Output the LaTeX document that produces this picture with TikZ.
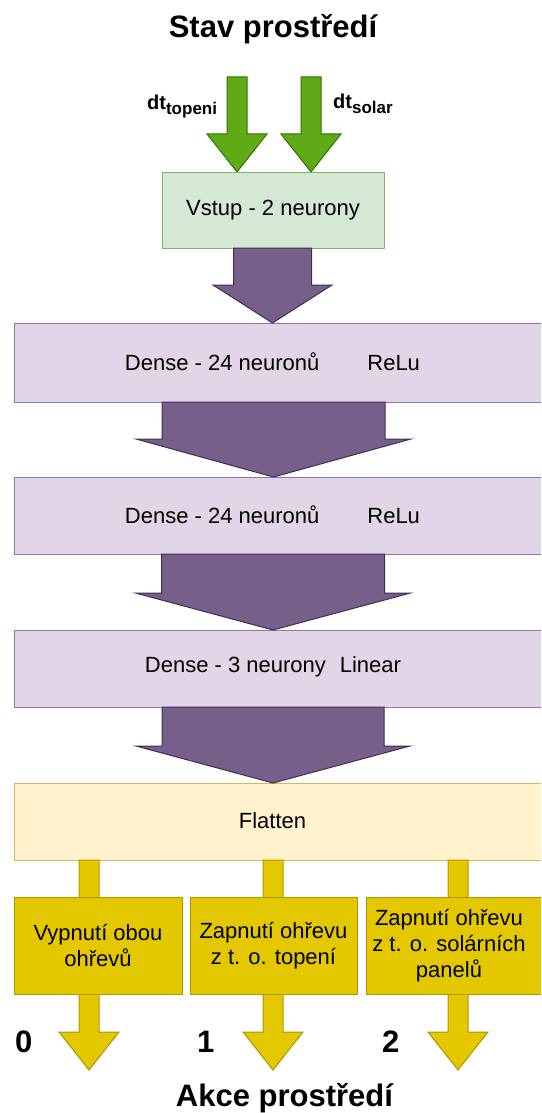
\documentclass[tikz,border=0pt]{standalone}
\usepackage{fontspec}
\setmainfont{Liberation Sans}
\usetikzlibrary{calc}
\definecolor{grnF}{HTML}{60A917}\definecolor{grnD}{HTML}{2D7600}
\definecolor{vstF}{HTML}{D5E8D4}\definecolor{vstD}{HTML}{82B366}
\definecolor{purF}{HTML}{76608A}\definecolor{purD}{HTML}{432D57}
\definecolor{layF}{HTML}{E1D5E7}\definecolor{layD}{HTML}{9673A6}
\definecolor{flaF}{HTML}{FFF2CC}\definecolor{flaD}{HTML}{D6B656}
\definecolor{yelF}{HTML}{E3C800}\definecolor{yelD}{HTML}{B09500}
% #1 style, #2 start, #3 tip, #4 shaft half width, #5 head half width, #6 head length
\newcommand\blockarr[6]{%
  \draw[#1] ($(#2)+(-#4,0)$) -- ($(#3)+(-#4,-#6)$) -- ($(#3)+(-#5,-#6)$) -- (#3)
    -- ($(#3)+(#5,-#6)$) -- ($(#3)+(#4,-#6)$) -- ($(#2)+(#4,0)$) -- cycle;}
\begin{document}
\begin{tikzpicture}[x=1pt,y=-1pt,
  box/.style={draw,line width=1pt,inner sep=0pt,outer sep=0pt,rectangle},
  txt/.style={font=\fontsize{22pt}{26pt}\selectfont,inner sep=0pt,align=center},
  big/.style={font=\fontsize{31pt}{36pt}\selectfont\bfseries,inner sep=0pt},
  dtlab/.style={inner sep=0pt,anchor=base west,font=\fontsize{20pt}{22pt}\selectfont\bfseries},
  garr/.style={fill=grnF,draw=grnD,line width=1pt,line join=miter},
  parr/.style={fill=purF,draw=purD,line width=1pt,line join=miter},
  yarr/.style={fill=yelF,draw=yelD,line width=1pt,line join=miter}]
\useasboundingbox (0,0) rectangle (541,1113);
\clip (0,0) rectangle (541,1113);

% titles
\node[big,anchor=base] (title) at (273,37.5) {Stav prostředí};
\node[big,anchor=base] (akce) at (284.5,1106) {Akce prostředí};

% input arrows
\coordinate (g1s) at (237,77);   \coordinate (g1e) at (237,172);
\coordinate (g2s) at (311,77);   \coordinate (g2e) at (311,172);
\blockarr{garr}{g1s}{g1e}{10}{30}{38}
\blockarr{garr}{g2s}{g2e}{10}{30}{38}
\node[dtlab] (dtt) at (147,110)
  {dt\raisebox{-4.5pt}{\fontsize{17pt}{17pt}\selectfont topeni}};
\node[dtlab] (dts) at (333,109)
  {dt\raisebox{-4.5pt}{\fontsize{17pt}{17pt}\selectfont solar}};

% boxes
\node[box,fill=vstF,draw=vstD,minimum width=222pt,minimum height=76pt,txt] (vstup) at (273,210) {Vstup - 2 neurony};
\node[box,fill=layF,draw=layD,minimum width=566pt,minimum height=79pt] (d1) at (297,362.5) {};
\node[box,fill=layF,draw=layD,minimum width=566pt,minimum height=77pt] (d2) at (297,515.5) {};
\node[box,fill=layF,draw=layD,minimum width=566pt,minimum height=77pt] (d3) at (297,668.5) {};
\node[box,fill=flaF,draw=flaD,minimum width=566pt,minimum height=77pt] (fl) at (297,821.5) {};

\node[txt] (d1t) at (272.5,362) {Dense - 24 neuronů\hspace*{48pt}ReLu};
\node[txt] (d2t) at (272.5,515) {Dense - 24 neuronů\hspace*{48pt}ReLu};
\node[txt] (d3t) at (273,667) {Dense - 3 neurony\hspace*{14pt}Linear};
\node[txt] (flt) at (272.5,821) {Flatten};

% purple arrows
\coordinate (p1s) at (272.5,248); \coordinate (p1e) at (272.5,323);
\coordinate (p2s) at (273.5,402); \coordinate (p2e) at (273.5,477);
\coordinate (p3s) at (273,554);   \coordinate (p3e) at (273,630);
\coordinate (p4s) at (273,707);   \coordinate (p4e) at (273,783);
\blockarr{parr}{p1s}{p1e}{39}{59.5}{38}
\blockarr{parr}{p2s}{p2e}{111.5}{137.5}{38}
\blockarr{parr}{p3s}{p3e}{111.5}{137.5}{37}
\blockarr{parr}{p4s}{p4e}{111}{137}{37}

% output arrows
\coordinate (y1s) at (89,860);  \coordinate (y1e) at (89,1070);
\coordinate (y2s) at (273,860); \coordinate (y2e) at (273,1070);
\coordinate (y3s) at (458,860); \coordinate (y3e) at (458,1070);
\blockarr{yarr}{y1s}{y1e}{10}{30}{38}
\blockarr{yarr}{y2s}{y2e}{10}{30}{38}
\blockarr{yarr}{y3s}{y3e}{10}{30}{38}

% output boxes
\node[box,fill=yelF,draw=yelD,minimum width=168pt,minimum height=97pt,txt] (oa) at (98,945.5) {Vypnutí obou\\ohřevů};
\node[box,fill=yelF,draw=yelD,minimum width=167pt,minimum height=97pt,txt] (ob) at (273.5,945.5) {Zapnutí ohřevu\\z t. o. topení};
\node[box,fill=yelF,draw=yelD,minimum width=200pt,minimum height=97pt] (oc) at (466,945.5) {};
\node[txt] (oct) at (449,946) {Zapnutí ohřevu\\z t. o. solárních\\panelů};

% numbers
\node[big,anchor=base west] (n0) at (15,1052) {0};
\node[big,anchor=base west] (n1) at (197,1052) {1};
\node[big,anchor=base west] (n2) at (382,1052) {2};
\end{tikzpicture}
\end{document}
